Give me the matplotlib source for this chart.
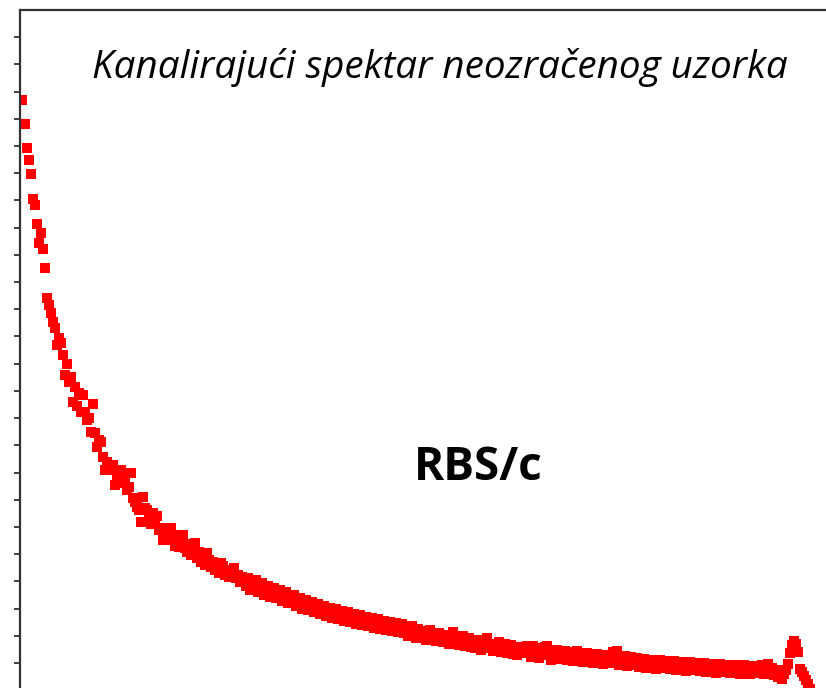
import numpy as np
import matplotlib.pyplot as plt

# channelling spectrum, counts per channel
counts = [
    10850, 10410, 9970, 9750, 9480, 9020, 8920, 8560, 8210, 8410,
    8100, 7760, 7210, 7070, 6940, 6770, 6660, 6350, 6480, 6380,
    6160, 5800, 6000, 5670, 5760, 5300, 5580, 5230, 5460, 5120,
    5430, 5110, 4970, 5000, 4750, 5260, 4730, 4470, 4600, 4560,
    4290, 4050, 4200, 4120, 4050, 4140, 3770, 3860, 3960, 4050,
    3810, 3900, 3680, 3740, 3990, 3530, 3460, 3370, 3310, 3090,
    3550, 3350, 3310, 3130, 3050, 3260, 3070, 3200, 2940, 2980,
    2760, 2910, 2760, 2940, 2980, 2850, 2650, 2760, 2630, 2800,
    2850, 2610, 2540, 2690, 2480, 2590, 2700, 2430, 2540, 2360,
    2470, 2300, 2520, 2390, 2260, 2360, 2210, 2280, 2150, 2340,
    2280, 2120, 2210, 2080, 2170, 2240, 2060, 2120, 1990, 2080,
    2020, 1910, 2060, 1840, 1970, 1910, 2020, 1800, 1900, 1970,
    1750, 1840, 1910, 1710, 1800, 1880, 1690, 1770, 1840, 1640,
    1730, 1800, 1600, 1710, 1660, 1750, 1550, 1640, 1690, 1490,
    1600, 1660, 1470, 1560, 1620, 1440, 1530, 1580, 1400, 1490,
    1550, 1360, 1450, 1510, 1330, 1420, 1490, 1310, 1380, 1450,
    1270, 1360, 1440, 1250, 1330, 1400, 1210, 1310, 1380, 1200,
    1290, 1340, 1180, 1270, 1330, 1140, 1250, 1310, 1120, 1230,
    1270, 1100, 1210, 1250, 1090, 1180, 1230, 1070, 1160, 1210,
    1050, 1140, 990, 1100, 1180, 1030, 960, 1120, 1050, 980,
    1090, 920, 1030, 1100, 940, 990, 900, 1050, 960, 880,
    1010, 920, 850, 980, 1070, 870, 940, 830, 920, 990,
    810, 900, 960, 790, 870, 780, 920, 830, 740, 880,
    810, 960, 780, 850, 720, 830, 760, 880, 700, 790,
    850, 680, 780, 830, 660, 760, 650, 790, 700, 780,
    680, 810, 740, 610, 810, 700, 780, 590, 740, 640,
    790, 810, 680, 550, 720, 630, 740, 570, 680, 610,
    720, 550, 640, 700, 530, 630, 720, 570, 660, 520,
    610, 680, 530, 630, 500, 590, 660, 520, 610, 480,
    570, 640, 500, 590, 700, 550, 720, 460, 590, 520,
    630, 440, 550, 610, 460, 530, 590, 420, 520, 570,
    410, 500, 550, 420, 520, 390, 480, 550, 410, 500,
    440, 530, 390, 480, 530, 370, 460, 520, 390, 460,
    350, 440, 520, 370, 460, 410, 500, 350, 440, 500,
    330, 420, 480, 350, 440, 310, 410, 480, 330, 420,
    370, 460, 310, 410, 460, 330, 420, 290, 390, 460,
    330, 410, 290, 390, 440, 310, 410, 350, 460, 290,
    390, 480, 330, 410, 280, 370, 240, 330, 210, 290,
    370, 480, 680, 830, 900, 850, 700, 390, 330, 260,
    190, 110, 20,
]
channels = np.arange(1, len(counts) + 1)

title = 'Kanalirajući spektar neozračenog uzorka'
label = 'RBS/c'

fig = plt.figure(figsize=(8.26, 6.88), dpi=100)
ax = fig.add_axes([0.0248, -0.0032, 1.0, 0.9887])

ax.plot(channels, counts, 's', color='#ff0000', markersize=6.6, markeredgewidth=0)

ax.set_xlim(0, 411)
ax.set_ylim(0, 12500)
ax.set_yticks(np.arange(500, 12500, 500))
ax.set_yticklabels([])
ax.set_xticks([])
ax.tick_params(axis='y', direction='out', length=4.5, width=1.3, color='#333333')

for side in ['right', 'bottom']:
    ax.spines[side].set_visible(False)
for side in ['left', 'top']:
    ax.spines[side].set_linewidth(1.6)
    ax.spines[side].set_color('#333333')

fig.text(0.532, 0.902, title, fontsize=27.8, fontstyle='italic',
         family='Open Sans', ha='center', va='center')
fig.text(0.579, 0.320, label, fontsize=33, fontweight='bold',
         family='Open Sans', ha='center', va='center')

fig.savefig('out.png', dpi=100)
